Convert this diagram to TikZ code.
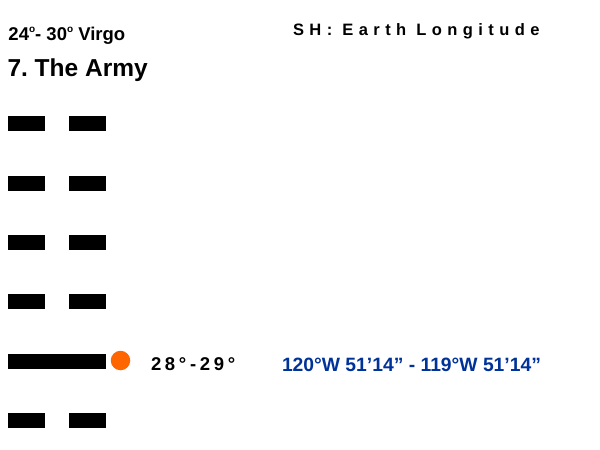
\documentclass[tikz,border=0pt]{standalone}
\usepackage{fontspec}
\setmainfont{Liberation Sans}
\definecolor{dotorange}{RGB}{255,102,0}
\definecolor{lonblue}{RGB}{0,51,153}
\tikzset{
  yinbar/.style={fill=black,draw=none},
  lbl/.style={inner sep=0pt,outer sep=0pt,anchor=base west,font=\bfseries},
}
\begin{document}
\frenchspacing
\begin{tikzpicture}[x=1pt,y=-1pt]
\useasboundingbox[fill=white] (0,0) rectangle (600,450);
% title texts
\node[lbl,font=\fontsize{18.5}{20}\selectfont\bfseries] (deg) at (8.5,40) {24\raisebox{0.42em}{\fontsize{10}{10}\selectfont o}- 30\raisebox{0.42em}{\fontsize{10}{10}\selectfont o} Virgo};
\node[lbl,font=\fontsize{24.5}{27}\selectfont\bfseries] (title) at (7.5,76) {7. The Army};
\node[lbl,font=\fontsize{16.5}{18}\selectfont\bfseries\addfontfeature{LetterSpace=33}] (sh) at (293,35) {SH: Earth Longitude};
% hexagram lines (top to bottom)
\foreach \i/\yy in {1/123.5,2/183,3/242,4/301.5,6/420.5}{
  \fill[yinbar] (8,\yy-7.5) rectangle (44.5,\yy+7.5);
  \fill[yinbar] (69,\yy-7.5) rectangle (105.5,\yy+7.5);
}
\fill[yinbar] (8,354) rectangle (105.5,369);
\node[circle,fill=dotorange,minimum size=19.5pt,inner sep=0pt] (dot) at (120.5,360.5) {};
\node[lbl,font=\fontsize{18.5}{20}\selectfont\bfseries\addfontfeature{LetterSpace=20}] (deg2) at (151,370.5) {28°-29°};
\node[lbl,text=lonblue,font=\fontsize{19.3}{21}\selectfont\bfseries] (lon) at (282,371) {120°W 51’14” - 119°W 51’14”};
\end{tikzpicture}
\end{document}
